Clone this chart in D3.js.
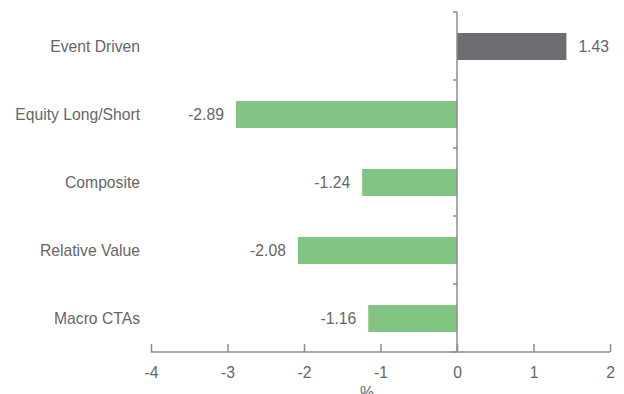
<!DOCTYPE html>
<html><head><meta charset="utf-8">
<script src="https://cdn.jsdelivr.net/npm/d3@7"></script>
<style>body{margin:0;background:#fff}svg{display:block}text{font-family:"Liberation Sans",Arial,sans-serif}</style>
</head><body><svg id="c" width="624" height="394"></svg>
<script>
const categories = ["Event Driven","Equity Long/Short","Composite","Relative Value","Macro CTAs"];
const values = [1.43,-2.89,-1.24,-2.08,-1.16];
const xTicks = [-4,-3,-2,-1,0,1,2];
const xLabel = "%";

const svg = d3.select("#c");
const x = d3.scaleLinear().domain([-4,2]).range([151,610]);
const yb = d3.scaleBand().domain(categories).range([12,352]);
const axisColor = "#8c8c8c", textColor = "#666666";
const fs = 15.7;

// bars
svg.selectAll("rect.bar").data(values).join("rect")
  .attr("x", d => x(Math.min(0,d))).attr("width", d => Math.abs(x(d)-x(0)))
  .attr("y", (d,i) => yb(categories[i]) + 21).attr("height", 27)
  .attr("fill", d => d >= 0 ? "#6d6e71" : "#82c582");

// value labels
svg.selectAll("text.val").data(values).join("text")
  .attr("x", d => d >= 0 ? x(d) + 12 : x(d) - 12)
  .attr("y", (d,i) => yb(categories[i]) + yb.bandwidth()/2 + 5.5)
  .attr("text-anchor", d => d >= 0 ? "start" : "end")
  .attr("font-size", fs).attr("fill", textColor)
  .text(d => d.toFixed(2));

// category labels
svg.selectAll("text.cat").data(categories).join("text")
  .attr("x", 140).attr("y", d => yb(d) + yb.bandwidth()/2 + 5.5)
  .attr("text-anchor", "end").attr("font-size", fs).attr("fill", textColor)
  .text(d => d);

// x axis
const gx = svg.append("g").attr("transform","translate(0,352)")
  .call(d3.axisTop(x).tickValues(xTicks).tickSize(8).tickFormat(d => String(d)));
gx.select(".domain").attr("stroke", axisColor).attr("stroke-width",1.5).attr("d", `M${x(-4)},0H${x(2)}`);
gx.selectAll(".tick line").attr("stroke", axisColor).attr("stroke-width",1.5);
gx.selectAll(".tick text").attr("y", 26).attr("font-size",fs).attr("fill",textColor)
  .attr("font-family","Liberation Sans, Arial, sans-serif");

// vertical axis at zero
const bounds = categories.map(c => yb(c)).concat([352]);
svg.append("line").attr("x1",x(0)).attr("x2",x(0)).attr("y1",12).attr("y2",352)
  .attr("stroke",axisColor).attr("stroke-width",1.5);
svg.selectAll("line.yt").data(bounds).join("line")
  .attr("x1",x(0)-4).attr("x2",x(0)).attr("y1",d=>d).attr("y2",d=>d)
  .attr("stroke",axisColor).attr("stroke-width",1.5);

svg.append("text").attr("x", 367).attr("y", 398).attr("text-anchor","middle")
  .attr("font-size",fs).attr("fill",textColor).text(xLabel);
</script></body></html>
